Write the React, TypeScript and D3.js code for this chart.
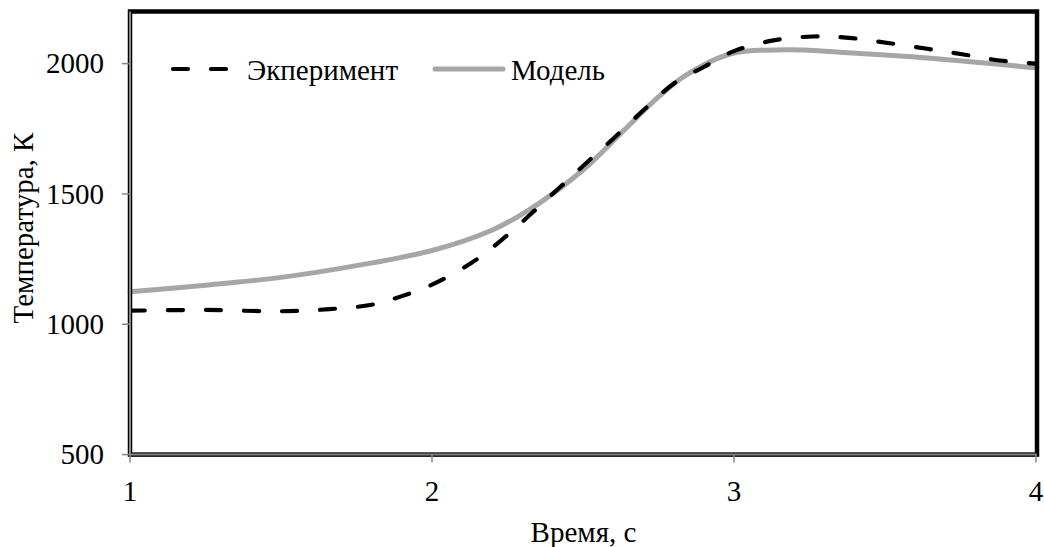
import React from "react";
import * as d3 from "d3";

// Measured temperature (dashed black)
const expTime = [1.0, 1.25, 1.5, 1.66, 1.8, 1.9, 2.0, 2.13, 2.23, 2.42, 2.51, 2.6, 2.7, 2.8, 2.9, 3.0, 3.13, 3.26, 3.38, 3.51, 3.64, 3.76, 3.88, 4.0];
const expTemp = [1052, 1055, 1050, 1058, 1075, 1108, 1152, 1235, 1323, 1522, 1618, 1712, 1821, 1923, 1987, 2048, 2089, 2104, 2099, 2079, 2057, 2035, 2012, 2000];

// Model temperature (solid grey)
const modelTime = [1.0, 1.25, 1.5, 1.75, 2.0, 2.2, 2.32, 2.5, 2.63, 2.75, 2.84, 2.99, 3.17, 3.35, 3.6, 4.0];
const modelTemp = [1125, 1150, 1180, 1225, 1283, 1362, 1438, 1592, 1738, 1872, 1955, 2038, 2053, 2044, 2025, 1984];

const xTicks = [1, 2, 3, 4];
const yTicks = [500, 1000, 1500, 2000];

const seriesNames = ["Экперимент", "Модель"];
const xTitle = "Время, с";
const yTitle = "Температура, К";

const W = 1044;
const H = 547;
const left = 130;
const right = 1037;
const top = 11.5;
const bottom = 454.6;

const FONT = "'Liberation Serif', 'Times New Roman', serif";
const FS = 29;
const GREY = "#a6a6a6";
const AXIS = "#868686";

export default function App() {
  const x = d3.scaleLinear().domain([1, 4]).range([left, right - 1]);
  const y = d3.scaleLinear().domain([500, 2200]).range([bottom, top]);

  const line = d3
    .line<[number, number]>()
    .x((d) => x(d[0]))
    .y((d) => y(d[1]))
    .curve(d3.curveCatmullRom.alpha(0.5));

  const expPath = line(expTime.map((t, i) => [t, expTemp[i]] as [number, number])) || "";
  const modelPath = line(modelTime.map((t, i) => [t, modelTemp[i]] as [number, number])) || "";

  return (
    <svg
      width={W}
      height={H}
      style={{ position: "absolute", left: 0, top: 0, background: "#fff" }}
      fontFamily={FONT}
    >
      {/* series */}
      <path d={modelPath} fill="none" stroke={GREY} strokeWidth={5} strokeLinecap="round" />
      <path
        d={expPath}
        fill="none"
        stroke="#000"
        strokeWidth={4.2}
        strokeDasharray="15 23"
        strokeLinecap="round"
      />

      {/* plot frame */}
      <rect
        x={left}
        y={top}
        width={right - left}
        height={bottom - top}
        fill="none"
        stroke="#000"
        strokeWidth={4.5}
      />
      <line x1={left} x2={left} y1={top} y2={bottom} stroke={AXIS} strokeWidth={2} />
      <line x1={left} x2={right} y1={bottom} y2={bottom} stroke={AXIS} strokeWidth={2} />

      {/* y axis ticks & labels */}
      {yTicks.map((v) => (
        <g key={"y" + v}>
          <line x1={left - 8} x2={left} y1={y(v)} y2={y(v)} stroke={AXIS} strokeWidth={1.5} />
          <text x={104} y={y(v)} dy="0.34em" textAnchor="end" fontSize={FS} fill="#000">
            {v}
          </text>
        </g>
      ))}

      {/* x axis ticks & labels */}
      {xTicks.map((v) => (
        <g key={"x" + v}>
          <line x1={x(v)} x2={x(v)} y1={bottom} y2={bottom + 8} stroke={AXIS} strokeWidth={1.5} />
          <text x={x(v)} y={501} textAnchor="middle" fontSize={FS} fill="#000">
            {v}
          </text>
        </g>
      ))}

      {/* axis titles */}
      <text x={(left + right) / 2} y={542} textAnchor="middle" fontSize={FS} fill="#000">
        {xTitle}
      </text>
      <text
        transform={`translate(33, 228) rotate(-90)`}
        textAnchor="middle"
        fontSize={FS}
        fill="#000"
      >
        {yTitle}
      </text>

      {/* legend */}
      <g>
        <line
          x1={173}
          x2={226}
          y1={69}
          y2={69}
          stroke="#000"
          strokeWidth={4.2}
          strokeDasharray="15 23"
          strokeLinecap="round"
        />
        <text x={247} y={80} fontSize={FS} fill="#000">
          {seriesNames[0]}
        </text>
        <line x1={435} x2={503} y1={69} y2={69} stroke={GREY} strokeWidth={5} strokeLinecap="round" />
        <text x={511} y={80} fontSize={FS} fill="#000">
          {seriesNames[1]}
        </text>
      </g>
    </svg>
  );
}
